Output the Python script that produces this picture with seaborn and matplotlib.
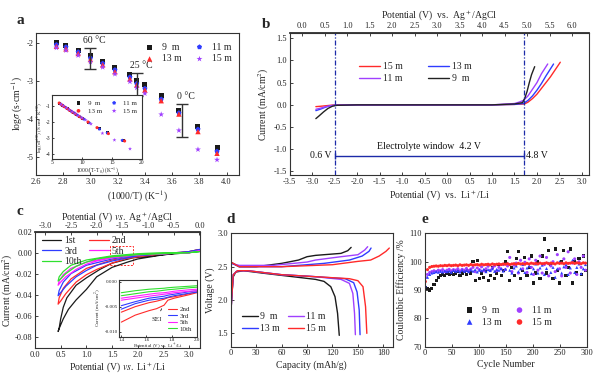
import numpy as np
import matplotlib
matplotlib.use("Agg")
import matplotlib.pyplot as plt
import seaborn as sns
from matplotlib.patches import Rectangle

# ---------------- data ----------------
# panel a : log sigma vs 1000/T
a_x = [2.75, 2.82, 2.91, 3.00, 3.09, 3.18, 3.29, 3.34, 3.40, 3.52, 3.65, 3.79, 3.93]
a_9m = [-2.00, -2.06, -2.19, -2.34, -2.49, -2.66, -2.84, -3.00, -3.10, -3.39, -3.77, -4.20, -4.75]
a_11m = [-2.05, -2.11, -2.24, -2.40, -2.54, -2.71, -2.90, -3.07, -3.20, -3.48, -3.84, -4.27, -4.85]
a_13m = [-2.09, -2.16, -2.28, -2.44, -2.58, -2.76, -2.95, -3.11, -3.24, -3.52, -3.87, -4.33, -4.90]
a_15m = [-2.13, -2.20, -2.33, -2.50, -2.64, -2.82, -3.02, -3.18, -3.33, -3.88, -4.30, -4.80, -5.07]
a_bars = [(3.00, -2.13, -2.69), (3.345, -2.78, -3.40), (3.67, -3.60, -4.47)]
a_bar_labels = ["60 °C", "25 °C", "0 °C"]

# inset a : VTF plot
ia_x9 = [6.3, 6.7, 7.1, 7.6, 8.0, 8.5, 9.0, 9.5, 10.1, 11.0, 12.9, 14.3, 16.9]
ia_y9 = [-0.82, -0.93, -1.04, -1.16, -1.27, -1.38, -1.50, -1.62, -1.76, -2.00, -2.40, -2.62, -3.12]
ia_x11 = [6.4, 6.8, 7.3, 7.7, 8.2, 8.7, 9.2, 9.7, 10.3, 11.2, 12.9, 14.2, 16.7]
ia_y11 = [-0.85, -0.95, -1.08, -1.18, -1.31, -1.42, -1.55, -1.66, -1.80, -2.03, -2.42, -2.66, -3.12]
ia_x13 = [6.2, 6.6, 7.0, 7.5, 7.9, 8.4, 8.9, 9.5, 10.0, 11.0, 12.5, 14.4, 17.1]
ia_y13 = [-0.80, -0.92, -1.02, -1.14, -1.25, -1.37, -1.49, -1.63, -1.75, -1.98, -2.33, -2.70, -3.16]
ia_x15 = [6.5, 6.9, 7.4, 7.9, 8.4, 8.9, 9.4, 10.0, 10.6, 11.5, 13.4, 15.4, 18.0]
ia_y15 = [-0.88, -0.98, -1.10, -1.22, -1.34, -1.45, -1.58, -1.72, -1.85, -2.10, -2.68, -3.10, -3.65]

# panel b : LSV
b_x15 = [-2.92, -2.8, -2.7, -2.6, -2.5, -2.0, -1.0, 0.0, 1.0, 1.5, 1.72, 1.8, 1.9, 2.0, 2.1, 2.2, 2.3, 2.4, 2.52]
b_y15 = [-0.04, -0.03, -0.02, -0.01, 0.0, 0.0, 0.0, 0.0, 0.0, 0.01, 0.02, 0.06, 0.14, 0.24, 0.37, 0.50, 0.63, 0.78, 0.96]
b_x13 = [-2.92, -2.8, -2.7, -2.6, -2.5, -2.0, -1.0, 0.0, 1.0, 1.5, 1.7, 1.8, 1.9, 2.0, 2.1, 2.2, 2.37]
b_y13 = [-0.13, -0.09, -0.05, -0.02, -0.01, 0.0, 0.0, 0.0, 0.0, 0.01, 0.03, 0.10, 0.20, 0.33, 0.48, 0.65, 0.92]
b_x11 = [-2.92, -2.8, -2.7, -2.6, -2.5, -2.0, -1.0, 0.0, 1.0, 1.5, 1.6, 1.7, 1.8, 1.9, 2.0, 2.1, 2.24]
b_y11 = [-0.10, -0.07, -0.04, -0.02, -0.01, 0.0, 0.0, 0.0, 0.0, 0.03, 0.06, 0.10, 0.20, 0.35, 0.50, 0.70, 0.92]
b_x9 = [-2.92, -2.85, -2.75, -2.65, -2.55, -2.45, -2.0, -1.0, 0.0, 1.0, 1.5, 1.68, 1.73, 1.78, 1.83, 1.88, 1.95]
b_y9 = [-0.31, -0.25, -0.16, -0.08, -0.03, -0.01, 0.0, 0.0, 0.0, 0.0, 0.02, 0.05, 0.15, 0.30, 0.50, 0.68, 0.86]
b_window = [-2.5, 1.71]

# panel c : CV cycles (loops)
c_v1 = [3.2, 3.0, 2.5, 2.0, 1.8, 1.5, 1.2, 1.0, 0.8, 0.65, 0.55, 0.48, 0.45, 0.47, 0.5, 0.55, 0.62, 0.8, 1.0, 1.26, 1.5, 1.9, 2.5, 3.0, 3.2]
c_i1 = [0.002, 0.0, -0.002, -0.006, -0.009, -0.014, -0.023, -0.035, -0.045, -0.054, -0.063, -0.071, -0.075, -0.072, -0.063, -0.052, -0.043, -0.031, -0.024, -0.016, -0.010, -0.005, -0.002, 0.001, 0.003]
c_v2 = [3.2, 3.0, 2.5, 2.0, 1.75, 1.5, 1.2, 1.0, 0.8, 0.6, 0.5, 0.45, 0.47, 0.55, 0.7, 1.0, 1.5, 2.0, 2.5, 3.0, 3.2]
c_i2 = [0.002, 0.0, -0.001, -0.004, -0.006, -0.010, -0.016, -0.021, -0.028, -0.039, -0.046, -0.049, -0.043, -0.034, -0.025, -0.015, -0.007, -0.003, -0.001, 0.001, 0.003]
c_v3 = [3.2, 3.0, 2.5, 2.0, 1.5, 1.2, 1.0, 0.8, 0.6, 0.5, 0.45, 0.47, 0.55, 0.7, 1.0, 1.5, 2.0, 2.5, 3.0, 3.2]
c_i3 = [0.002, 0.0, -0.001, -0.003, -0.008, -0.012, -0.017, -0.023, -0.032, -0.038, -0.041, -0.036, -0.028, -0.020, -0.012, -0.006, -0.002, -0.001, 0.001, 0.003]
c_v5 = [3.2, 3.0, 2.5, 2.0, 1.5, 1.2, 1.0, 0.8, 0.6, 0.5, 0.45, 0.47, 0.55, 0.7, 1.0, 1.5, 2.0, 2.5, 3.0, 3.2]
c_i5 = [0.001, 0.0, -0.001, -0.002, -0.005, -0.008, -0.011, -0.016, -0.023, -0.028, -0.031, -0.027, -0.021, -0.015, -0.009, -0.004, -0.002, -0.001, 0.0, 0.002]
c_v10 = [3.2, 3.0, 2.5, 2.0, 1.5, 1.2, 1.0, 0.8, 0.6, 0.5, 0.45, 0.47, 0.55, 0.7, 1.0, 1.5, 2.0, 2.5, 3.0, 3.2]
c_i10 = [0.001, 0.0, -0.001, -0.002, -0.004, -0.006, -0.009, -0.013, -0.020, -0.025, -0.027, -0.023, -0.018, -0.012, -0.007, -0.003, -0.001, 0.0, 0.0, 0.001]
c_box = [1.46, 1.90, -0.012, 0.006]

# inset c
ic_v = [1.40, 1.51, 1.62, 1.68, 1.74, 1.77, 1.82, 1.94, 2.00]
ic_2nd_lo = [-0.0081, -0.0067, -0.0058, -0.0054, -0.0047, -0.0037, -0.0033, -0.0026, -0.0022]
ic_2nd_hi = [-0.0061, -0.0050, -0.0042, -0.0039, -0.0035, -0.0032, -0.0030, -0.0024, -0.0020]
ic_3rd_lo = [-0.0055, -0.0044, -0.0037, -0.0035, -0.0033, -0.0031, -0.0028, -0.0023, -0.0021]
ic_3rd_hi = [-0.0048, -0.0040, -0.0033, -0.0031, -0.0029, -0.0027, -0.0025, -0.0020, -0.0018]
ic_5th_lo = [-0.0037, -0.0033, -0.0029, -0.0027, -0.0025, -0.0024, -0.0022, -0.0019, -0.0018]
ic_5th_hi = [-0.0033, -0.0029, -0.0025, -0.0023, -0.0022, -0.0021, -0.0019, -0.0016, -0.0015]
ic_10th_lo = [-0.0028, -0.0024, -0.0020, -0.0019, -0.0017, -0.0016, -0.0015, -0.0012, -0.0011]
ic_10th_hi = [-0.0022, -0.0018, -0.0015, -0.0014, -0.0013, -0.0012, -0.0011, -0.0009, -0.0008]

# panel d : charge / discharge
d_dis_cap9 = [0, 1, 3, 6, 15, 40, 80, 100, 110, 118, 123, 126, 128]
d_dis_v9 = [1.72, 2.0, 2.35, 2.42, 2.44, 2.40, 2.34, 2.31, 2.28, 2.20, 2.05, 1.80, 1.47]
d_chg_cap9 = [0, 10, 30, 60, 80, 90, 100, 130, 138, 142]
d_chg_v9 = [2.57, 2.50, 2.50, 2.55, 2.60, 2.65, 2.67, 2.70, 2.74, 2.79]
d_dis_cap11 = [0, 1, 3, 8, 20, 60, 100, 130, 140, 144, 146, 147]
d_dis_v11 = [1.72, 2.0, 2.38, 2.44, 2.44, 2.38, 2.35, 2.31, 2.25, 2.10, 1.80, 1.48]
d_chg_cap11 = [0, 10, 50, 90, 100, 130, 150, 158, 161.5]
d_chg_v11 = [2.55, 2.52, 2.52, 2.57, 2.60, 2.65, 2.68, 2.75, 2.80]
d_dis_cap13 = [0, 1, 3, 8, 20, 60, 100, 135, 145, 149, 151.5, 152.5]
d_dis_v13 = [1.72, 2.0, 2.38, 2.44, 2.44, 2.38, 2.35, 2.32, 2.26, 2.12, 1.85, 1.48]
d_chg_cap13 = [0, 10, 60, 110, 140, 155, 163, 165.5]
d_chg_v13 = [2.56, 2.50, 2.50, 2.55, 2.60, 2.66, 2.73, 2.78]
d_dis_cap15 = [0, 1, 3, 8, 20, 60, 100, 140, 150, 156, 159, 160.5]
d_dis_v15 = [1.70, 2.0, 2.38, 2.44, 2.44, 2.38, 2.35, 2.32, 2.29, 2.20, 1.90, 1.50]
d_chg_cap15 = [0, 10, 60, 120, 150, 165, 175, 183, 187]
d_chg_v15 = [2.57, 2.50, 2.50, 2.53, 2.58, 2.60, 2.66, 2.73, 2.78]

# panel e : coulombic efficiency, every 4th cycle starting at cycle 1
e_9m = [91, 90.5, 90, 90.5, 92, 93.5, 94.5, 95, 95.5, 95, 96, 95.5, 96, 95.5, 96, 96.5, 95, 96, 96.5, 95.5,
        97, 96, 100, 93.5, 100.5, 94, 96, 94.5, 97, 93.5, 95, 98, 94, 96, 99, 95, 97, 100, 103.5, 93.5,
        98, 95, 101, 103.5, 94, 97, 101.5, 95, 98, 102, 92.5, 96, 100, 94, 102, 108, 96, 104, 99, 94,
        104.5, 97, 92.5, 100, 104, 95, 98, 104.5, 92.5, 100, 96, 101, 95.5, 102, 97]
e_11m = [94.5, 95.5, 96.2, 96.5, 96.8, 96.5, 97, 96.8, 97.2, 96.5, 97, 97.3, 96.8, 97.2, 97, 97.5, 96.8, 97.3, 97, 97.6,
         96.9, 97.4, 98, 96.5, 97.8, 97.2, 98.2, 96.8, 97.5, 98.4, 97, 97.8, 98.5, 96.8, 98, 97.4, 99, 97.2, 98.5, 101.5,
         96.5, 98.8, 99.5, 96, 100.5, 97.5, 99.8, 96.2, 101, 98, 95.5, 100.5, 97, 102, 96, 99, 101.5, 95, 98.5, 100,
         96.5, 102.5, 97.5, 95, 101, 98, 103.5, 96, 99.5, 101, 95.5, 100, 98, 102, 97]
e_13m = [91.5, 94.5, 95.5, 96, 96.2, 96.5, 96.3, 96.6, 96.4, 96.8, 96.5, 96.7, 96.3, 96.9, 96.6, 96.8, 96.4, 97, 96.6, 96.9,
         96.5, 97.1, 96.7, 97.2, 96.4, 97, 96.8, 97.3, 96.5, 97.2, 96.9, 97.5, 96.6, 97.3, 97, 97.6, 96.7, 97.4, 99.5, 97,
         96, 97.8, 98.5, 96.5, 97.5, 99, 96.2, 97.8, 98.5, 95.8, 97.5, 99.2, 96, 97.8, 98.8, 95.5, 97.6, 99.5, 96.2, 98,
         94.5, 97.5, 100, 96, 98.2, 99, 95.5, 97.8, 100.5, 96.2, 98, 99.2, 95.8, 97.5, 99]
e_15m = [93, 97.2, 98, 98.3, 98.4, 98.5, 98.4, 98.6, 98.5, 98.7, 98.6, 98.8, 98.6, 98.7, 98.8, 98.6, 98.9, 98.7, 98.8, 98.9,
         98.7, 99, 98.8, 98.9, 99, 98.8, 99.1, 98.9, 99, 99.1, 98.9, 99.2, 99, 99.1, 99.2, 99, 99.2, 99.1, 99.3, 99,
         99.2, 99.3, 99.1, 99.4, 99.2, 99.3, 99.1, 99.4, 99.2, 99.5, 99.3, 99.4, 99.2, 99.5, 99.3, 99.4, 99.6, 99.3, 99.5, 99.4,
         99.2, 99.6, 99.4, 99.5, 99.3, 99.6, 99.4, 99.5, 99.7, 99.4, 99.6, 99.5, 99.3, 99.6, 99.5]

# ---------------- style ----------------
sns.set_theme(style="ticks")
plt.rcParams['font.family'] = ['Liberation Serif', 'DejaVu Serif']
plt.rcParams['mathtext.fontset'] = 'stix'
plt.rcParams['axes.unicode_minus'] = False

K = '#1a1a1a'; R = '#ff2a2a'; B = '#2f3cff'; P = '#a040ff'; M = '#ff20ff'; G = '#30e030'
NAVY = '#1c2aa8'
TS = 6.0; LS = 7.0

fig = plt.figure(figsize=(6.0, 3.74), dpi=100)


def style(ax, ts=TS):
    for s in ax.spines.values():
        s.set_linewidth(0.8)
        s.set_color('#333333')
    ax.tick_params(direction='in', labelsize=ts, length=2.5, width=0.6, pad=2, colors='#222222')


def leg(ax, handles_order, **kw):
    h, l = ax.get_legend_handles_labels()
    d = dict(zip(l, h))
    opts = dict(frameon=False, handletextpad=0.3, columnspacing=0.8, borderpad=0.2, labelspacing=0.3)
    opts.update(kw)
    ax.legend([d[k] for k in handles_order], handles_order, **opts)

# ---------------- panel a ----------------
ax = fig.add_axes([0.060, 0.532, 0.338, 0.380])
style(ax)
sns.scatterplot(x=a_x, y=a_9m, ax=ax, marker='s', color=K, s=13, edgecolor='none', label='9  m')
sns.scatterplot(x=a_x, y=a_11m, ax=ax, marker='p', color=B, s=15, edgecolor='none', label='11 m')
sns.scatterplot(x=a_x, y=a_13m, ax=ax, marker='^', color=R, s=15, edgecolor='none', label='13 m')
sns.scatterplot(x=a_x, y=a_15m, ax=ax, marker='*', color=P, s=20, edgecolor='none', label='15 m')
for (bx, y1, y2), lab in zip(a_bars, a_bar_labels):
    ax.errorbar([bx], [(y1 + y2) / 2], yerr=[abs(y1 - y2) / 2], color='#333333', lw=1.0, capsize=4, capthick=1.0)
    ax.text(bx + 0.03, y1 + 0.07, lab, fontsize=7, ha='center', va='bottom', color='#222222')
ax.set_xlim(2.6, 4.09)
ax.set_ylim(-5.47, -1.74)
ax.set_xticks(np.arange(2.6, 4.01, 0.2))
ax.set_xticklabels([f"{v:.1f}" for v in np.arange(2.6, 4.01, 0.2)])
ax.set_yticks([-2, -3, -4, -5])
ax.set_xlabel(r"(1000/T) (K$^{-1}$)", fontsize=LS, labelpad=2)
ax.set_ylabel(r"log$\sigma$ (s$\cdot$cm$^{-1}$)", fontsize=LS, labelpad=1)
leg(ax, ['9  m', '13 m', '11 m', '15 m'], ncol=2, fontsize=7, loc='upper right',
    bbox_to_anchor=(1.0, 0.98), markerscale=1.0)
fig.text(0.028, 0.935, 'a', fontsize=11, fontweight='bold')

# inset a
ia = fig.add_axes([0.0867, 0.574, 0.150, 0.172])
style(ia, ts=4.0)
ia.tick_params(length=1.5, pad=0.8)
sns.scatterplot(x=ia_x9, y=ia_y9, ax=ia, marker='s', color=K, s=4, edgecolor='none', label='9  m')
sns.scatterplot(x=ia_x11, y=ia_y11, ax=ia, marker='p', color=B, s=6, edgecolor='none', label='11 m')
sns.scatterplot(x=ia_x13, y=ia_y13, ax=ia, marker='o', color=R, s=5, edgecolor='none', label='13 m')
sns.scatterplot(x=ia_x15, y=ia_y15, ax=ia, marker='*', color=P, s=9, edgecolor='none', label='15 m')
ia.set_xlim(5, 20)
ia.set_ylim(-4.3, -0.3)
ia.set_xticks([5, 10, 15, 20])
ia.set_yticks([-1, -2, -3, -4])
ia.set_xlabel(r"1000/(T-T$_0$) (K$^{-1}$)", fontsize=4.0, labelpad=0.2)
ia.set_ylabel(r"log(σT$^{1/2}$) (S cm$^{-1}$ K$^{1/2}$)", fontsize=3.6, labelpad=0.3)
leg(ia, ['9  m', '13 m', '11 m', '15 m'], ncol=2, fontsize=5, loc='upper right',
    bbox_to_anchor=(1.0, 1.0), markerscale=1.2)

# ---------------- panel b ----------------
ax = fig.add_axes([0.483, 0.532, 0.498, 0.380])
style(ax)
sns.lineplot(x=b_x15, y=b_y15, ax=ax, color=R, lw=1.0, sort=False, estimator=None, label='15 m')
sns.lineplot(x=b_x13, y=b_y13, ax=ax, color=B, lw=1.0, sort=False, estimator=None, label='13 m')
sns.lineplot(x=b_x11, y=b_y11, ax=ax, color=P, lw=1.0, sort=False, estimator=None, label='11 m')
sns.lineplot(x=b_x9, y=b_y9, ax=ax, color='#222222', lw=1.0, sort=False, estimator=None, label='9  m')
for wx in b_window:
    ax.axvline(wx, color=NAVY, lw=0.9, ls=(0, (4, 1.5, 1, 1.5)))
ax.plot(b_window, [-1.15, -1.15], color=NAVY, lw=1.0)
ax.plot(b_window, [-1.15, -1.15], color=NAVY, lw=0, marker='|', ms=4)
ax.text(-0.4, -0.93, 'Electrolyte window  4.2 V', fontsize=7, ha='center', va='center', color='#111111')
ax.text(b_window[0] - 0.08, -1.13, '0.6 V', fontsize=7, ha='right', va='center', color='#111111')
ax.text(b_window[1] + 0.05, -1.15, '4.8 V', fontsize=7, ha='left', va='center', color='#111111')
ax.set_xlim(-3.44, 3.15)
ax.set_ylim(-1.58, 1.62)
ax.set_xticks(np.arange(-3.5, 3.01, 0.5))
ax.set_xticklabels([f"{v:.1f}" for v in np.arange(-3.5, 3.01, 0.5)])
ax.set_yticks(np.arange(-1.5, 1.51, 0.5))
ax.set_yticklabels([f"{v:.1f}" for v in np.arange(-1.5, 1.51, 0.5)])
ax.set_xlabel(r"Potential (V)  vs.  Li$^+$/Li", fontsize=LS, labelpad=2)
ax.set_ylabel(r"Current (mA/cm$^2$)", fontsize=LS, labelpad=2)
sec = ax.secondary_xaxis('top', functions=(lambda x: x + 3.22, lambda x: x - 3.22))
sec.set_xticks(np.arange(0, 6.01, 0.5))
sec.set_xticklabels([f"{v:.1f}" for v in np.arange(0, 6.01, 0.5)])
sec.tick_params(direction='in', labelsize=TS, length=2.5, width=0.6, pad=2)
sec.set_xlabel(r"Potential (V)  vs.  Ag$^+$/AgCl", fontsize=LS, labelpad=3)
leg(ax, ['15 m', '11 m', '13 m', '9  m'], ncol=2, fontsize=7, loc='center',
    bbox_to_anchor=(0.42, 0.72), handlelength=2.2, columnspacing=2.5)
fig.text(0.437, 0.925, 'b', fontsize=11, fontweight='bold')

# ---------------- panel c ----------------
ax = fig.add_axes([0.0583, 0.0687, 0.275, 0.312])
style(ax)
sns.lineplot(x=c_v1, y=c_i1, ax=ax, color=K, lw=0.9, sort=False, estimator=None, label='1st')
sns.lineplot(x=c_v2, y=c_i2, ax=ax, color=R, lw=0.9, sort=False, estimator=None, label='2nd')
sns.lineplot(x=c_v3, y=c_i3, ax=ax, color=B, lw=0.9, sort=False, estimator=None, label='3rd')
sns.lineplot(x=c_v5, y=c_i5, ax=ax, color=M, lw=0.9, sort=False, estimator=None, label='5th')
sns.lineplot(x=c_v10, y=c_i10, ax=ax, color=G, lw=0.9, sort=False, estimator=None, label='10th')
ax.add_patch(Rectangle((c_box[0], c_box[2]), c_box[1] - c_box[0], c_box[3] - c_box[2],
                       fill=False, ec=R, lw=0.7, ls=(0, (2, 1.5))))
ax.set_xlim(0, 3.21)
ax.set_ylim(-0.091, 0.02)
ax.set_xticks(np.arange(0, 3.01, 0.5))
ax.set_xticklabels([f"{v:.1f}" for v in np.arange(0, 3.01, 0.5)])
ax.set_yticks(np.arange(-0.08, 0.021, 0.02))
ax.set_yticklabels([f"{v:.2f}" for v in np.arange(-0.08, 0.021, 0.02)])
ax.set_xlabel(r"Potential (V) $\it{vs.}$ Li$^+$/Li", fontsize=LS, labelpad=1)
ax.set_ylabel(r"Current (mA/cm$^2$)", fontsize=LS, labelpad=0)
sec = ax.secondary_xaxis('top', functions=(lambda x: x - 3.2, lambda x: x + 3.2))
sec.set_xticks(np.arange(-3.0, 0.01, 0.5))
sec.set_xticklabels([f"{v:.1f}" for v in np.arange(-3.0, 0.01, 0.5)])
sec.tick_params(direction='in', labelsize=TS, length=2.5, width=0.6, pad=1.0)
sec.set_xlabel(r"Potential (V) $\it{vs.}$ Ag$^+$/AgCl", fontsize=LS, labelpad=2.0)
leg(ax, ['1st', '3rd', '10th', '2nd', '5th'], ncol=2, fontsize=7, loc='upper left',
    bbox_to_anchor=(0.0, 1.02), handlelength=2.0, labelspacing=0.15)
fig.text(0.028, 0.425, 'c', fontsize=11, fontweight='bold')

# inset c
ic = fig.add_axes([0.198, 0.100, 0.130, 0.152])
style(ic, ts=3.6)
ic.tick_params(length=1.5, pad=0.8)
for lo, hi, col, lab in [(ic_2nd_lo, ic_2nd_hi, R, '2nd'), (ic_3rd_lo, ic_3rd_hi, B, '3rd'),
                         (ic_5th_lo, ic_5th_hi, M, '5th'), (ic_10th_lo, ic_10th_hi, G, '10th')]:
    sns.lineplot(x=ic_v, y=lo, ax=ic, color=col, lw=0.8, estimator=None, label=lab)
    sns.lineplot(x=ic_v, y=hi, ax=ic, color=col, lw=0.8, estimator=None)
ic.annotate('SEI', xy=(1.73, -0.0049), xytext=(1.64, -0.0078), fontsize=5,
            arrowprops=dict(arrowstyle='-', color='#222222', lw=0.6))
ic.set_xlim(1.38, 2.0)
ic.set_ylim(-0.011, 0.0004)
ic.set_xticks([1.4, 1.6, 1.8, 2.0])
ic.set_xticklabels(['1.4', '1.6', '1.8', '2.0'])
ic.set_yticks([0.0, -0.005, -0.010])
ic.set_yticklabels(['0.000', '-0.005', '-0.010'])
ic.set_xlabel(r"Potential (V) vs. Li$^+$/Li", fontsize=3.6, labelpad=0.2)
ic.set_ylabel(r"Current (mA/cm$^2$)", fontsize=3.6, labelpad=0.3)
leg(ic, ['2nd', '3rd', '5th', '10th'], fontsize=5, loc='lower right', bbox_to_anchor=(1.0, 0.0),
    handlelength=1.4, labelspacing=0.1)

# ---------------- panel d ----------------
ax = fig.add_axes([0.3845, 0.073, 0.270, 0.303])
style(ax)
for (dc, dv, cc, cv, col, lab) in [
        (d_dis_cap9, d_dis_v9, d_chg_cap9, d_chg_v9, K, '9  m'),
        (d_dis_cap11, d_dis_v11, d_chg_cap11, d_chg_v11, P, '11 m'),
        (d_dis_cap13, d_dis_v13, d_chg_cap13, d_chg_v13, B, '13 m'),
        (d_dis_cap15, d_dis_v15, d_chg_cap15, d_chg_v15, R, '15 m')]:
    sns.lineplot(x=dc, y=dv, ax=ax, color=col, lw=1.0, sort=False, estimator=None, label=lab)
    sns.lineplot(x=cc, y=cv, ax=ax, color=col, lw=1.0, sort=False, estimator=None)
ax.set_xlim(0, 191)
ax.set_ylim(1.3, 3.0)
ax.set_xticks(np.arange(0, 181, 30))
ax.set_yticks([1.5, 2.0, 2.5, 3.0])
ax.set_yticklabels(['1.5', '2.0', '2.5', '3.0'])
ax.set_xlabel("Capacity (mAh/g)", fontsize=LS, labelpad=2)
ax.set_ylabel("Voltage (V)", fontsize=LS, labelpad=2)
leg(ax, ['9  m', '13 m', '11 m', '15 m'], ncol=2, fontsize=7, loc='center',
    bbox_to_anchor=(0.33, 0.21), handlelength=1.6)
fig.text(0.378, 0.405, 'd', fontsize=11, fontweight='bold')

# ---------------- panel e ----------------
ax = fig.add_axes([0.708, 0.073, 0.2705, 0.303])
style(ax)
for vals, col, mk, lab in [(e_9m, K, 's', '9  m'), (e_11m, P, 'o', '11 m'),
                           (e_13m, B, '^', '13 m'), (e_15m, R, 'o', '15 m')]:
    cyc = 1 + 4 * np.arange(len(vals))
    sns.scatterplot(x=cyc, y=vals, ax=ax, color=col, marker=mk, s=5, edgecolor='none', label=lab)
ax.set_xlim(0, 300)
ax.set_ylim(70, 110)
ax.set_xticks(np.arange(0, 301, 50))
ax.set_yticks([70, 80, 90, 100, 110])
ax.set_xlabel("Cycle Number", fontsize=LS, labelpad=2)
ax.set_ylabel("Coulombic Efficiency /%", fontsize=LS, labelpad=2)
leg(ax, ['9  m', '13 m', '11 m', '15 m'], ncol=2, fontsize=7, loc='center',
    bbox_to_anchor=(0.5, 0.27), markerscale=1.8)
fig.text(0.703, 0.405, 'e', fontsize=11, fontweight='bold')

fig.savefig("out.png", dpi=100)
